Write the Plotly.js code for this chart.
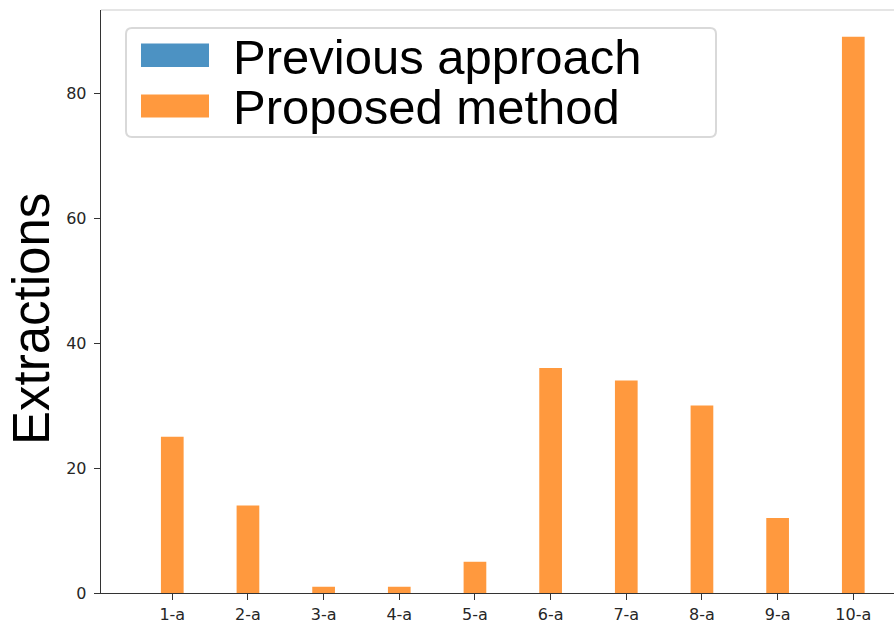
<!DOCTYPE html>
<html><head><meta charset="utf-8">
<script src="https://cdn.plot.ly/plotly-3.0.1.min.js"></script>
<style>html,body{margin:0;padding:0;overflow:hidden;background:#fff}</style>
</head><body><div id="chart" style="width:894px;height:623px"></div>
<script>
const categories = ["1-a","2-a","3-a","4-a","5-a","6-a","7-a","8-a","9-a","10-a"];
const previousApproach = [0,0,0,0,0,0,0,0,0,0];
const proposedMethod = [25,14,1,1,5,36,34,30,12,89];
const seriesNames = ["Previous approach","Proposed method"];
const yTicks = [0,20,40,60,80];
const yTitle = "Extractions";

const W = 894, H = 623, ML = 101, MR = 0, MT = 10, MB = 30;
const PW = W - ML - MR, PH = H - MT - MB;
const px = x => (x - ML) / PW;
const py = y => 1 - (y - MT) / PH;

const blue = "#4c92c3", orange = "#ff993e";
const xpos = categories.map((c,i)=>i);

const traces = [
  {type:"bar", x:xpos, y:previousApproach, name:seriesNames[0], width:0.3, marker:{color:blue}, showlegend:false, hoverinfo:"skip"},
  {type:"bar", x:xpos, y:proposedMethod, name:seriesNames[1], width:0.3, marker:{color:orange}, showlegend:false}
];

function roundRect(x0,y0,x1,y1,r){
  const X0=px(x0),X1=px(x1),Y0=py(y0),Y1=py(y1);
  const rx=r/PW, ry=r/PH;
  return `M ${X0+rx} ${Y0} L ${X1-rx} ${Y0} Q ${X1} ${Y0} ${X1} ${Y0-ry} L ${X1} ${Y1+ry} Q ${X1} ${Y1} ${X1-rx} ${Y1} L ${X0+rx} ${Y1} Q ${X0} ${Y1} ${X0} ${Y1+ry} L ${X0} ${Y0-ry} Q ${X0} ${Y0} ${X0+rx} ${Y0} Z`;
}

const shapes = [
  {type:"line", xref:"paper", yref:"paper", x0:0, x1:1, y0:1, y1:1, line:{color:"#cccccc", width:1.2}},
  {type:"path", xref:"paper", yref:"paper", path:roundRect(126,28,716,137,6), fillcolor:"rgba(255,255,255,0.8)", line:{color:"#d9d9d9", width:2}},
  {type:"rect", xref:"paper", yref:"paper", x0:px(141), x1:px(209), y0:py(43.5), y1:py(67), fillcolor:blue, line:{width:0}},
  {type:"rect", xref:"paper", yref:"paper", x0:px(141), x1:px(209), y0:py(94.5), y1:py(117.5), fillcolor:orange, line:{width:0}}
];
const bigFont = "Liberation Sans, Arial, sans-serif";
const legendFont = {family:bigFont, size:49, color:"#000"};
const annotations = [
  {xref:"paper", yref:"paper", x:px(231), y:py(57), text:seriesNames[0], showarrow:false, xanchor:"left", yanchor:"middle", font:legendFont},
  {xref:"paper", yref:"paper", x:px(231), y:py(107), text:seriesNames[1], showarrow:false, xanchor:"left", yanchor:"middle", font:legendFont},
  {xref:"paper", yref:"paper", x:px(31), y:py(319), text:yTitle, textangle:-90, showarrow:false, xanchor:"center", yanchor:"middle", font:{family:bigFont, size:51, color:"#000"}}
];

const layout = {
  width:W, height:H,
  margin:{l:ML, r:MR, t:MT, b:MB, pad:0},
  paper_bgcolor:"#fff", plot_bgcolor:"#fff",
  barmode:"overlay",
  showlegend:false,
  xaxis:{range:[-0.942, 9.538], tickmode:"array", tickvals:xpos, ticktext:categories,
    showgrid:false, zeroline:false, showline:true, linecolor:"#333", linewidth:1.3,
    ticks:"outside", ticklen:6, tickcolor:"#333", tickwidth:1,
    tickfont:{family:"DejaVu Sans", size:16, color:"#262626"}, fixedrange:true},
  yaxis:{range:[0, 93.3], tickmode:"array", tickvals:yTicks, ticktext:yTicks.map(String),
    showgrid:false, zeroline:false, showline:true, linecolor:"#333", linewidth:1.3,
    ticks:"outside", ticklen:6, tickcolor:"#333", tickwidth:1, ticklabelstandoff:4,
    tickfont:{family:"DejaVu Sans", size:16, color:"#262626"},
    automargin:false, fixedrange:true},
  shapes:shapes, annotations:annotations
};
Plotly.newPlot("chart", traces, layout, {displayModeBar:false, staticPlot:true});
</script></body></html>
